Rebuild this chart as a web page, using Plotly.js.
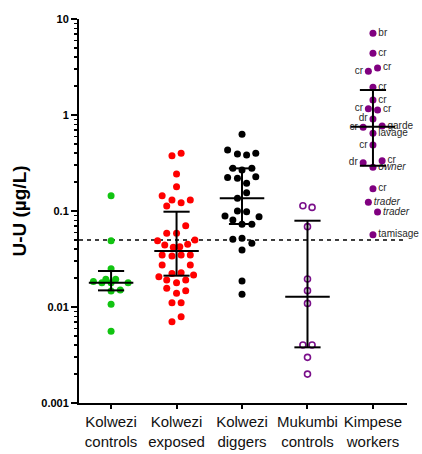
<!DOCTYPE html>
<html>
<head>
<meta charset="utf-8">
<script src="https://cdn.plot.ly/plotly-3.0.1.min.js"></script>
<style>html,body{margin:0;padding:0;background:#fff;}#chart{width:422px;height:454px;}</style>
</head>
<body>
<div id="chart"></div>
<script>
// ---- data ----
const categories = ["Kolwezi<br>controls", "Kolwezi<br>exposed", "Kolwezi<br>diggers", "Mukumbi<br>controls", "Kimpese<br>workers"];

const kolweziControls = [0.144, 0.049, 0.0251, 0.0184, 0.0179, 0.0194, 0.0194, 0.0179, 0.0179, 0.0147, 0.0150, 0.0107, 0.0056];
const kolweziControlsJitter = [0, 0, 0, -0.27, -0.14, -0.08, 0.07, 0.26, 0, 0, 0.14, 0, 0];

const kolweziExposed = [0.377, 0.399, 0.243, 0.179, 0.144, 0.130, 0.122, 0.130, 0.113, 0.0703, 0.0586, 0.0586, 0.049, 0.050,
  0.0443, 0.0418, 0.0425, 0.0450, 0.0348, 0.0340, 0.0348, 0.0348, 0.0274, 0.0274, 0.0224, 0.0228, 0.0207, 0.0215,
  0.0191, 0.0179, 0.0191, 0.0157, 0.0148, 0.0139, 0.0111, 0.0111, 0.0079, 0.0070];
const kolweziExposedJitter = [-0.07, 0.07, 0, 0, -0.22, -0.07, 0.07, 0.21, -0.15, 0.14, -0.15, 0, -0.29, 0.28,
  -0.18, -0.05, 0.05, 0.17, -0.22, -0.07, 0.07, 0.21, -0.22, 0.21, -0.07, 0.07, -0.27, 0.26,
  -0.15, 0, 0.14, -0.15, 0.14, 0, -0.07, 0.07, 0.07, -0.07];

const kolweziDiggers = [0.629, 0.432, 0.392, 0.383, 0.399, 0.278, 0.267, 0.278, 0.224, 0.219, 0.228, 0.194, 0.155, 0.136,
  0.100, 0.0983, 0.0887, 0.0872, 0.0806, 0.0727, 0.0727, 0.0507, 0.0519, 0.0461, 0.0392, 0.0187, 0.0136];
const kolweziDiggersJitter = [0, -0.22, -0.07, 0.07, 0.21, -0.14, 0, 0.15, -0.22, -0.07, 0.21, 0.07, 0.07, -0.07,
  -0.07, 0.07, -0.26, 0.26, -0.14, 0, 0.15, -0.14, 0, 0.15, 0, 0, 0];

const mukumbiControls = [0.1135, 0.109, 0.0687, 0.0196, 0.0148, 0.0109, 0.00402, 0.00402, 0.00299, 0.00200];
const mukumbiControlsJitter = [-0.07, 0.07, 0, 0, 0, 0, -0.07, 0.07, 0, 0];

const kimpeseWorkers = [7.10, 4.40, 3.09, 2.85, 1.94, 1.43, 1.16, 1.13, 0.909, 0.745, 0.768, 0.644, 0.487, 0.318, 0.334, 0.285, 0.171, 0.123, 0.0976, 0.0567];
const kimpeseWorkersJitter = [0, 0, 0.07, -0.07, 0, 0, -0.07, 0.07, 0, -0.15, 0.14, 0, 0, -0.15, 0.14, 0, 0, -0.07, 0.07, 0];
const kimpeseLabels = ["br", "cr", "cr", "cr", "cr", "cr", "cr", "cr", "dr", "cr", "garde", "lavage", "cr", "dr", "cr", "<i>owner</i>", "cr", "<i>trader</i>", "<i>trader</i>", "tamisage"];
const kimpeseLabelSide = ["right", "right", "right", "left", "right", "right", "left", "right", "left", "left", "right", "right", "left", "left", "right", "right", "right", "right", "right", "right"];

const medians = [0.0179, 0.0383, 0.136, 0.0128, 0.755];
const q1 = [0.0149, 0.0212, 0.0732, 0.0038, 0.296];
const q3 = [0.0237, 0.0983, 0.278, 0.0792, 1.82];

const threshold = 0.05;

const yTickVals = [0.001, 0.01, 0.1, 1, 10];
const yTickText = ["0.001", "0.01", "0.1", "1", "10"];

// ---- build ----
const xRange = [-0.49, 4.52];
const FONT = "Arial, 'Liberation Sans', sans-serif";

function xs(idx, jit) { return jit.map(j => idx + j); }

const groups = [
  {y: kolweziControls, j: kolweziControlsJitter, color: "#11c411", open: false},
  {y: kolweziExposed, j: kolweziExposedJitter, color: "#ff0000", open: false},
  {y: kolweziDiggers, j: kolweziDiggersJitter, color: "#000000", open: false},
  {y: mukumbiControls, j: mukumbiControlsJitter, color: "#7a0f8a", open: true},
];

const traces = [];
traces.push({
  x: xRange, y: [threshold, threshold], mode: "lines", type: "scatter",
  line: {color: "#000", width: 1.5, dash: "4px,4px"}, hoverinfo: "skip", showlegend: false
});

groups.forEach((g, i) => {
  traces.push({
    x: xs(i, g.j), y: g.y, type: "scatter", mode: "markers", showlegend: false,
    marker: g.open
      ? {symbol: "circle-open", size: 6, color: g.color, line: {width: 1.6, color: g.color}}
      : {symbol: "circle", size: 7, color: g.color, line: {width: 0}}
  });
});

traces.push({
  x: xs(4, kimpeseWorkersJitter), y: kimpeseWorkers, type: "scatter", mode: "markers+text",
  text: kimpeseLabels, textposition: kimpeseLabelSide.map(s => "middle " + s),
  textfont: {family: FONT, size: 10, color: "#2a2a2a"},
  marker: {symbol: "circle", size: 7, color: "#800080", line: {width: 0}},
  showlegend: false, cliponaxis: false
});

// median + IQR
const mx = [], my = [];
const MW = 0.34, CW = 0.2;
for (let i = 0; i < medians.length; i++) {
  mx.push(i - MW, i + MW, null); my.push(medians[i], medians[i], null);
  mx.push(i, i, null); my.push(q1[i], q3[i], null);
  mx.push(i - CW, i + CW, null); my.push(q1[i], q1[i], null);
  mx.push(i - CW, i + CW, null); my.push(q3[i], q3[i], null);
}
traces.push({x: mx, y: my, type: "scatter", mode: "lines", line: {color: "#000", width: 2}, showlegend: false, hoverinfo: "skip"});

const minorVals = [];
for (let e = -3; e < 1; e++) for (let d = 2; d <= 9; d++) minorVals.push(d * Math.pow(10, e));

const layout = {
  width: 422, height: 454,
  margin: {l: 79, r: 15, t: 19, b: 51},
  paper_bgcolor: "#fff", plot_bgcolor: "#fff",
  font: {family: FONT, color: "#000"},
  showlegend: false,
  xaxis: {
    range: xRange, tickvals: [0, 1, 2, 3, 4], ticktext: categories,
    showline: true, linecolor: "#000", linewidth: 2,
    ticks: "outside", ticklen: 4, tickwidth: 2, tickcolor: "#000",
    showgrid: false, zeroline: false,
    tickfont: {family: FONT, size: 15, color: "#111"}
  },
  yaxis: {
    type: "log", range: [-3, 1],
    tickvals: yTickVals, ticktext: yTickText,
    showline: true, linecolor: "#000", linewidth: 2,
    ticks: "outside", ticklen: 6, tickwidth: 2, tickcolor: "#000",
    minor: {tickvals: minorVals, ticks: "outside", ticklen: 3, tickwidth: 1.5, tickcolor: "#000", showgrid: false},
    showgrid: false, zeroline: false,
    tickfont: {family: FONT, size: 11, weight: "bold", color: "#000"},
    title: {text: "U-U (µg/L)", font: {family: FONT, size: 19, weight: "bold", color: "#000"}, standoff: 10}
  }
};

Plotly.newPlot("chart", traces, layout, {staticPlot: true, displayModeBar: false});
</script>
</body>
</html>
